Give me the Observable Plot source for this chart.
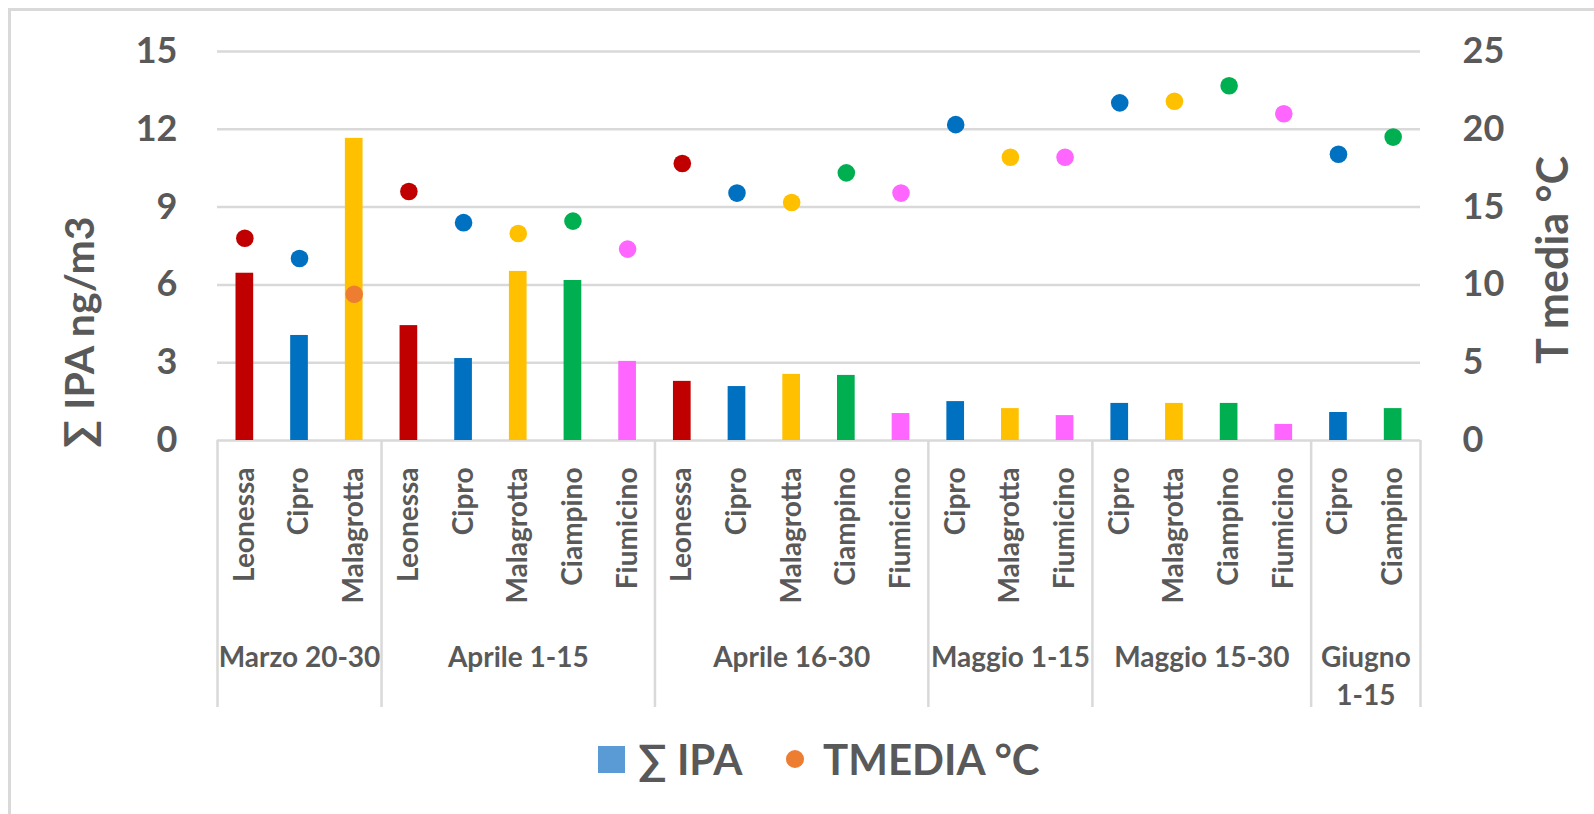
<!DOCTYPE html>
<html>
<head>
<meta charset="utf-8">
<script src="https://cdn.jsdelivr.net/npm/d3@7"></script>
<script src="https://cdn.jsdelivr.net/npm/@observablehq/plot@0.6"></script>
<style>
  html, body { margin: 0; padding: 0; background: #fff; }
  #wrap { position: relative; width: 1594px; height: 814px; overflow: hidden; font-family: Lato, "Open Sans", sans-serif; color: #595959; }
  #frame { position: absolute; left: 8px; top: 8px; width: 1700px; height: 900px; border-left: 3px solid #D9D9D9; border-top: 3px solid #D9D9D9; }
  #chart { position: absolute; left: 0; top: 0; }
  #legend { position: absolute; left: 0; top: 730px; width: 1594px; height: 60px; font-weight: bold; font-size: 42px; }
  .sw { position: absolute; }
  .lt { position: absolute; line-height: 1; white-space: nowrap; }
</style>
</head>
<body>
<div id="wrap">
  <div id="frame"></div>
  <div id="chart"></div>
  <div id="legend">
    <div class="sw" style="left:598px;top:16px;width:27px;height:27px;background:#5B9BD5"></div>
    <div class="lt" id="l1" style="left:638px;top:8px;"></div>
    <div class="sw" style="left:786px;top:20px;width:18px;height:18px;border-radius:50%;background:#ED7D31"></div>
    <div class="lt" id="l2" style="left:823px;top:8px;"></div>
  </div>
</div>
<script>
// ---- data ----
const periods = ["Marzo 20-30", "Aprile 1-15", "Aprile 16-30", "Maggio 1-15", "Maggio 15-30", "Giugno\n1-15"];
const periodSites = [
  ["Leonessa", "Cipro", "Malagrotta"],
  ["Leonessa", "Cipro", "Malagrotta", "Ciampino", "Fiumicino"],
  ["Leonessa", "Cipro", "Malagrotta", "Ciampino", "Fiumicino"],
  ["Cipro", "Malagrotta", "Fiumicino"],
  ["Cipro", "Malagrotta", "Ciampino", "Fiumicino"],
  ["Cipro", "Ciampino"]
];
const ipa = [6.45, 4.05, 11.65, 4.43, 3.16, 6.52, 6.17, 3.05, 2.28, 2.08, 2.55, 2.51, 1.04, 1.50, 1.23, 0.96, 1.43, 1.43, 1.43, 0.62, 1.08, 1.23];
const tmedia = [13.0, 11.7, 9.4, 16.0, 14.0, 13.3, 14.1, 12.3, 17.8, 15.9, 15.3, 17.2, 15.9, 20.3, 18.2, 18.2, 21.7, 21.8, 22.8, 21.0, 18.4, 19.5];
const siteNames = ["Leonessa", "Cipro", "Malagrotta", "Ciampino", "Fiumicino"];
const siteColors = ["#C00000", "#0070C0", "#FFC000", "#00B050", "#FF66FF"];
const tempOverrideColor = "#ED7D31"; // first-period Malagrotta temperature marker
const ipaTicks = [0, 3, 6, 9, 12, 15];
const tempTicks = [0, 5, 10, 15, 20, 25];
const legendLabels = ["∑ IPA", "TMEDIA °C"];
const yTitleLeft = "∑ IPA ng/m3";
const yTitleRight = "T media °C";

// ---- build table ----
const rows = [];
const groups = [];
let idx = 0;
periodSites.forEach((sites, g) => {
  groups.push({label: periods[g], start: idx, n: sites.length});
  sites.forEach(s => {
    const c = siteColors[siteNames.indexOf(s)];
    rows.push({idx, site: s, period: periods[g], ipa: ipa[idx], t: tmedia[idx], color: c,
               dotColor: (g === 0 && s === "Malagrotta") ? tempOverrideColor : c});
    idx++;
  });
});
const bounds = groups.map(d => d.start).concat([idx]);
const ratio = 15 / 25; // right axis (0-25) mapped on left axis (0-15)
const grey = "#D9D9D9";
const ink = "#595959";

const chart = Plot.plot({
  width: 1594,
  height: 725,
  marginLeft: 217,
  marginRight: 174,
  marginTop: 51,
  marginBottom: 285,
  style: {fontFamily: "Lato, 'Open Sans', sans-serif", fontWeight: "bold", fontSize: "36px", color: ink, background: "transparent"},
  x: {type: "linear", domain: [0, idx], axis: null},
  y: {domain: [0, 15], axis: null},
  color: {type: "identity"},
  marks: [
    Plot.ruleY(ipaTicks, {y: d => d, stroke: grey, strokeWidth: 2.5}),
    Plot.rectY(rows, {x1: "idx", x2: d => d.idx + 1, y: "ipa", fill: "color", insetLeft: 18.5, insetRight: 18.5}),
    Plot.dot(rows, {x: d => d.idx + 0.5, y: d => d.t * ratio, r: 8.8, fill: "dotColor", stroke: null}),
    Plot.ruleX(bounds, {x: d => d, stroke: grey, strokeWidth: 2.5, insetTop: 389, insetBottom: -267}),
    Plot.axisY(ipaTicks, {anchor: "left", tickSize: 0, tickPadding: 40, label: null, fontSize: 36, fill: ink}),
    Plot.axisY(tempTicks.map(t => t * ratio), {anchor: "right", tickSize: 0, tickPadding: 42, label: null, fontSize: 36, fill: ink,
      tickFormat: d => String(Math.round(d / ratio))}),
    Plot.text(rows, {x: d => d.idx + 0.5, frameAnchor: "bottom", text: "site", rotate: -90, textAnchor: "end",
      lineAnchor: "middle", dy: 27, fontSize: 28, fontWeight: "bold", fill: ink}),
    Plot.text(groups, {x: d => d.start + d.n / 2, frameAnchor: "bottom", text: "label", lineAnchor: "top",
      dy: 199, fontSize: 28, fontWeight: "bold", fill: ink, lineHeight: 1.36}),
    Plot.text([yTitleLeft], {frameAnchor: "left", text: d => d, rotate: -90, dx: -137, dy: 86, fontSize: 41, fontWeight: "bold", fill: ink, textAnchor: "middle", lineAnchor: "middle"}),
    Plot.text([yTitleRight], {frameAnchor: "right", text: d => d, rotate: -90, dx: 134, dy: 14, fontSize: 43, fontWeight: "bold", fill: ink, textAnchor: "middle", lineAnchor: "middle"})
  ]
});
document.getElementById("chart").appendChild(chart);
document.getElementById("l1").textContent = legendLabels[0];
document.getElementById("l2").textContent = legendLabels[1];
</script>
</body>
</html>
